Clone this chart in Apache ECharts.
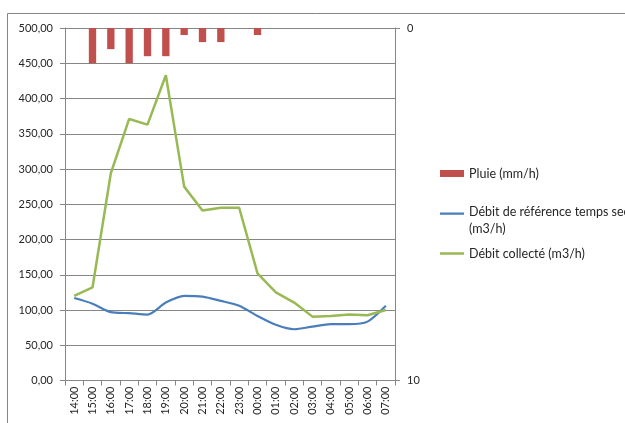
<!DOCTYPE html>
<html>
<head>
<meta charset="utf-8">
<script src="https://cdn.jsdelivr.net/npm/echarts@6/dist/echarts.min.js"></script>
<style>html,body{margin:0;padding:0;background:#fff}#c{width:625px;height:423px}</style>
</head>
<body>
<div id="c"></div>
<script>
var categories = ['14:00','15:00','16:00','17:00','18:00','19:00','20:00','21:00','22:00','23:00','00:00','01:00','02:00','03:00','04:00','05:00','06:00','07:00'];
var pluie = [0, 1.0, 0.6, 1.0, 0.8, 0.8, 0.2, 0.4, 0.4, 0, 0.2, 0, 0, 0, 0, 0, 0, 0];
var debitReference = [117, 109, 97, 95.5, 93.5, 110.5, 120, 119, 113, 106, 91.6, 79, 72.7, 76.5, 80, 80, 83.5, 106];
var debitCollecte = [120, 132, 294, 371, 363, 433, 275, 241, 245, 245, 152, 125, 110.5, 90.6, 91.6, 93.5, 92.6, 100];
var seriesNames = ['Pluie (mm/h)', 'Débit de référence temps sec\n(m3/h)', 'Débit collecté (m3/h)'];

var FONT = 'Lato';
var TXT = '#262626';
var GRAY = '#868686';
var BLUE = '#4A7EBB', GREEN = '#98B954', RED = '#C0504D';
var chart = echarts.init(document.getElementById('c'), null, {renderer: 'canvas'});
function fmt(v){ return v.toFixed(2).replace('.', ','); }
function legendFor(name, top, h, icon, extraText){
  return {orient: 'vertical', left: 435, top: top, itemWidth: 24, itemHeight: h, itemGap: 0,
    icon: icon, selectedMode: false, data: [name],
    itemStyle: {borderWidth: 0}, lineStyle: {width: 0},
    textStyle: Object.assign({fontFamily: FONT, fontSize: 12.5, color: TXT}, extraText || {})};
}
chart.setOption({
  animation: false,
  textStyle: {fontFamily: FONT},
  graphic: [{type: 'rect', shape: {x: 7.5, y: 13.5, width: 800, height: 600}, style: {fill: 'none', stroke: GRAY, lineWidth: 1}, silent: true}],
  legend: [
    legendFor(seriesNames[0], 162, 7, 'rect'),
    legendFor(seriesNames[1], 198, 17, 'path://M0,0H27V2.5H0Z M0,17H0.01V17.01H0Z', {lineHeight: 17}),
    legendFor(seriesNames[2], 242, 2.5, 'rect')
  ],
  grid: {left: 65, right: 230, top: 28, bottom: 42.5, containLabel: false},
  xAxis: {
    type: 'category', data: categories, boundaryGap: true,
    axisLine: {lineStyle: {color: GRAY}},
    axisTick: {show: true, length: 5, lineStyle: {color: GRAY}, alignWithLabel: false},
    axisLabel: {rotate: 90, fontFamily: FONT, fontSize: 11, color: TXT, margin: 6, interval: 0}
  },
  yAxis: [
    {type: 'value', min: 0, max: 500, interval: 50,
     axisLine: {show: true, lineStyle: {color: GRAY}},
     axisTick: {show: true, length: 5, lineStyle: {color: GRAY}},
     splitLine: {lineStyle: {color: GRAY}},
     axisLabel: {formatter: fmt, fontFamily: FONT, fontSize: 11, color: TXT, margin: 12}},
    {type: 'value', min: 0, max: 10, interval: 10, inverse: true, position: 'right',
     axisLine: {show: true, lineStyle: {color: GRAY}},
     axisTick: {show: true, length: 5, lineStyle: {color: GRAY}},
     splitLine: {show: false},
     axisLabel: {fontFamily: FONT, fontSize: 11, color: TXT, margin: 12}}
  ],
  series: [
    {name: seriesNames[0], type: 'bar', yAxisIndex: 1, data: pluie, barWidth: '40%', itemStyle: {color: RED}},
    {name: seriesNames[1], type: 'line', yAxisIndex: 0, data: debitReference, symbol: 'none', smooth: 0.25, lineStyle: {color: BLUE, width: 2.2}, itemStyle: {color: BLUE}},
    {name: seriesNames[2], type: 'line', yAxisIndex: 0, data: debitCollecte, symbol: 'none', lineStyle: {color: GREEN, width: 2.5}, itemStyle: {color: GREEN}}
  ]
});
</script>
</body>
</html>
